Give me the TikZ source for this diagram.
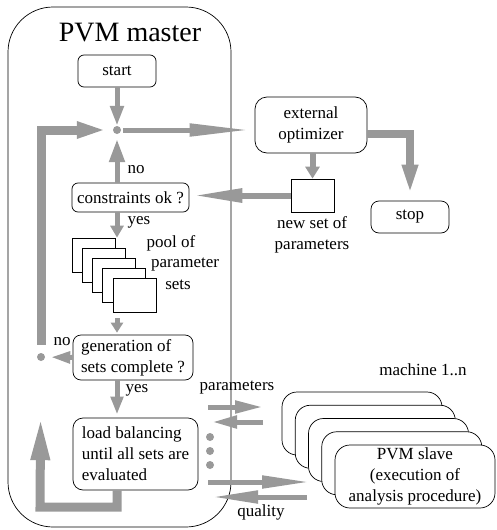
\documentclass[tikz,border=0pt]{standalone}
\usepackage{fontspec}
\setmainfont{Liberation Serif}
\newfontfamily\tnrfont{Liberation Serif}
\usetikzlibrary{arrows.meta}
\definecolor{arr}{RGB}{153,153,153}
\tikzset{
  txt/.style={font=\tnrfont\fontsize{17}{21}\selectfont, inner sep=0pt},
  box/.style={draw, line width=0.7pt, fill=white, rounded corners=#1, inner sep=0pt, align=center, font=\tnrfont\fontsize{17}{21}\selectfont},
  box/.default=6pt,
  plainbox/.style={draw, line width=0.7pt, fill=white, inner sep=0pt},
  gdot/.style={circle, fill=arr, minimum size=8pt, inner sep=0pt},
  ga/.style n args={3}{draw=arr, line width=#1, -{Triangle[length=#2,width=#3]}},
}
\begin{document}
\begin{tikzpicture}[x=1pt,y=-1pt]
\useasboundingbox (0,0) rectangle (496,530);
% master frame
\node[draw, line width=0.7pt, rounded corners=45pt, minimum width=223pt, minimum height=520pt, inner sep=0pt] (master) at (119.5,267) {};
\node[font=\tnrfont\fontsize{28}{30}\selectfont, inner sep=0pt] (title) at (130,33) {PVM master};
% boxes
\node[box, minimum width=78pt, minimum height=32pt] (start) at (117,71) {start};
\node[gdot] (dot1) at (117,130) {};
\node[box, minimum width=117pt, minimum height=29pt] (constraints) at (130.5,197.5) {constraints ok ?};
\foreach \i in {0,...,4}
  \node[plainbox, minimum width=43pt, minimum height=34pt] (pool\i) at ({93.5+10.25*\i},{255+10*\i}) {};
\node[box=8pt, minimum width=120pt, minimum height=45pt, align=left] (generation) at (133,357.5) {generation of\\sets complete ?};
\node[gdot] (smalldot) at (41,357) {};
\node[box=10pt, minimum width=125pt, minimum height=72pt, align=left] (load) at (135.5,454) {load balancing\\until all sets are\\evaluated};
\node[gdot] (d1) at (210,437) {};
\node[gdot] (d2) at (210,451) {};
\node[gdot] (d3) at (210,465) {};
\node[box=12pt, minimum width=112pt, minimum height=56pt] (optimizer) at (311,125) {external\\optimizer};
\node[plainbox, minimum width=43pt, minimum height=33pt] (newset) at (312.5,195.5) {};
\node[box=8pt, minimum width=78pt, minimum height=32pt] (stop) at (410,217) {stop};
\foreach \i in {0,...,3}
  \node[box=15pt, minimum width=160pt, minimum height=63pt] (slave\i) at ({362+13.25*\i},{423.5+13.25*\i}) {};
\node[box=15pt, minimum width=160pt, minimum height=63pt] (slave4) at (415,476.5) {PVM slave\\(execution of\\analysis procedure)};
% labels
\node[txt] (no1) at (136,170) {no};
\node[txt] (yes1) at (139,222) {yes};
\node[txt] (poolof) at (171,243) {pool of};
\node[txt] (param1) at (185,265) {parameter};
\node[txt] (sets) at (178,285) {sets};
\node[txt] (no2) at (62,342) {no};
\node[txt] (yes2) at (137,390) {yes};
\node[txt] (paramlbl) at (237,388) {parameters};
\node[txt] (quality) at (261,512) {quality};
\node[txt] (machine) at (423,370) {machine 1..n};
\node[txt, align=center] (newsetlbl) at (312,235) {new set of\\parameters};
% free ends
\coordinate (p1a) at (208,407);
\coordinate (p1b) at (263,407);
\coordinate (p2a) at (263,422);
\coordinate (p2b) at (212,422);
\coordinate (q1a) at (208,482);
\coordinate (q1b) at (310,482);
\coordinate (q2a) at (307,497);
\coordinate (q2b) at (212,497);
\coordinate (lb) at (40,507);
% arrows
\draw[ga={5pt}{20pt}{13pt}] (start) -- (dot1);
\draw[ga={5pt}{23pt}{15pt}, shorten >=5pt] (constraints.north -| dot1) -- (dot1);
\draw[ga={5pt}{60pt}{12pt}, shorten <=2pt, shorten >=5pt] (dot1) -- (dot1 -| optimizer.west);
\draw[ga={6pt}{50pt}{13pt}, shorten >=3pt] (newset.west) -- (newset.west -| constraints.east);
\draw[ga={5pt}{12pt}{13pt}] (constraints.south -| dot1) -- (pool0.north -| dot1);
\draw[ga={5pt}{10pt}{12pt}, shorten <=6pt, shorten >=2pt] (pool4.south -| dot1) -- (generation.north -| dot1);
\draw[ga={5pt}{20pt}{11pt}, shorten >=5pt] (generation.west) -- (smalldot);
\draw[ga={5pt}{18pt}{12pt}, shorten >=3pt] (generation.south -| dot1) -- (load.north -| dot1);
\draw[ga={9pt}{45pt}{17pt}, shorten >=54pt] (load.south -| dot1) |- (lb) -- (smalldot);
\draw[ga={9pt}{35pt}{14pt}, shorten <=8pt, shorten >=1pt] (smalldot) |- (dot1);
\draw[ga={6pt}{12pt}{14pt}] (newset.north |- optimizer.south) -- (newset.north);
\draw[ga={8pt}{32pt}{14pt}, shorten >=4pt] ([yshift=-9pt]optimizer.east) -| (stop.north);
\draw[ga={5pt}{28pt}{12pt}] (p1a) -- (p1b);
\draw[ga={5pt}{25pt}{12pt}] (p2a) -- (p2b);
\draw[ga={5pt}{48pt}{12pt}] (q1a) -- (q1b);
\draw[ga={5pt}{46pt}{12pt}] (q2a) -- (q2b);
\end{tikzpicture}
\end{document}
